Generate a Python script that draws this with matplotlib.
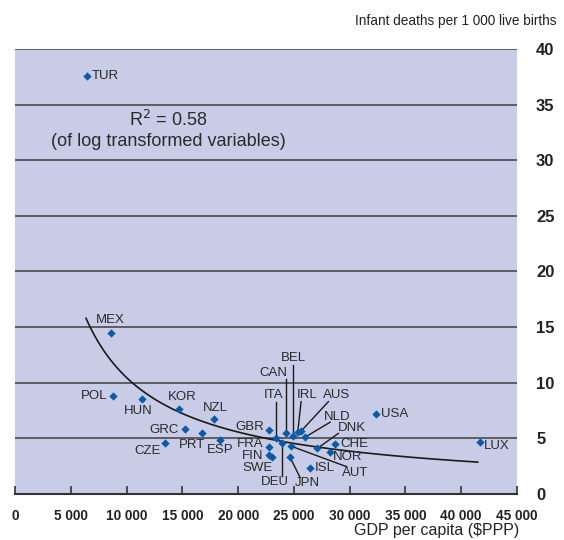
import numpy as np
import matplotlib
matplotlib.use('Agg')
import matplotlib.pyplot as plt

plt.rcParams['font.family'] = ['Liberation Sans', 'DejaVu Sans']

# ==== data ====
countries = ['TUR', 'MEX', 'POL', 'HUN', 'KOR', 'NZL', 'GRC', 'PRT', 'ESP', 'CZE',
             'GBR', 'ITA', 'CAN', 'BEL', 'IRL', 'AUS', 'NLD', 'DEU', 'FRA', 'FIN',
             'SWE', 'AUT', 'JPN', 'ISL', 'DNK', 'NOR', 'CHE', 'USA', 'LUX']
gdp = [6400, 8560, 8800, 11400, 14720, 17840, 15230, 16790, 18380, 13460,
       22770, 23370, 24300, 24960, 25350, 25650, 26000, 23910, 22770, 22770,
       23070, 24750, 24660, 26450, 27110, 28250, 28700, 32380, 41710]
infant = [37.6, 14.5, 8.8, 8.5, 7.6, 6.7, 5.8, 5.45, 4.85, 4.55,
          5.75, 5.05, 5.45, 5.25, 5.55, 5.65, 5.1, 4.55, 4.25, 3.5,
          3.3, 4.3, 3.3, 2.35, 4.1, 3.8, 4.5, 7.2, 4.65]

# label anchor (x, y, horizontal alignment)
label_pos = {
    'TUR': (6850, 37.6, 'left'), 'MEX': (8560, 15.6, 'center'),
    'POL': (8250, 8.85, 'right'), 'HUN': (11050, 7.45, 'center'),
    'KOR': (14950, 8.7, 'center'), 'NZL': (18000, 7.75, 'center'),
    'GRC': (14700, 5.75, 'right'), 'PRT': (15850, 4.4, 'center'),
    'ESP': (18400, 3.95, 'center'), 'CZE': (11850, 3.85, 'center'),
    'GBR': (22300, 6.05, 'right'), 'ITA': (23200, 8.9, 'center'),
    'CAN': (23200, 10.85, 'center'), 'BEL': (24960, 12.2, 'center'),
    'IRL': (26200, 8.9, 'center'), 'AUS': (28850, 8.9, 'center'),
    'NLD': (28850, 6.9, 'center'), 'DEU': (23300, 1.1, 'center'),
    'FRA': (22300, 4.45, 'right'), 'FIN': (22300, 3.4, 'right'),
    'SWE': (23100, 2.35, 'right'), 'AUT': (30500, 1.85, 'center'),
    'JPN': (26250, 0.95, 'center'), 'ISL': (26900, 2.3, 'left'),
    'DNK': (30200, 5.9, 'center'), 'NOR': (28500, 3.35, 'left'),
    'CHE': (29150, 4.45, 'left'), 'USA': (32850, 7.15, 'left'),
    'LUX': (42100, 4.3, 'left'),
}
# leader lines: start point near the label, ending at the country's marker
line_start = {
    'ITA': (23370, 8.3), 'CAN': (24300, 10.3), 'BEL': (24960, 11.6),
    'IRL': (25650, 8.3), 'AUS': (28100, 8.3), 'NLD': (28250, 6.45),
    'DEU': (23910, 1.6), 'AUT': (29750, 2.45), 'JPN': (25550, 1.5),
    'DNK': (29000, 5.45),
}

xticks = list(range(0, 45001, 5000))
xtick_labels = ['0', '5 000', '10 000', '15 000', '20 000', '25 000',
                '30 000', '35 000', '40 000', '45 000']
yticks = list(range(0, 41, 5))

bg = '#c8cce6'
blue = '#0b5aa6'
grid = '#4a4a4a'

fig = plt.figure(figsize=(5.64, 5.40), dpi=100)
ax = fig.add_axes([0.0271, 0.0852, 0.8890, 0.8241])
ax.set_facecolor(bg)
ax.set_xlim(0, 45000)
ax.set_ylim(0, 40)

for y in yticks[1:]:
    ax.axhline(y, color=grid, lw=1.2, zorder=1)

# log-log trend line
b, a = np.polyfit(np.log(gdp), np.log(infant), 1)
xs = np.linspace(6350, 41500, 200)
ax.plot(xs, np.exp(a) * xs ** b, color='#1a1a1a', lw=1.2, zorder=2)

ax.scatter(gdp, infant, marker='D', s=18, color=blue, zorder=4, linewidths=0)

for c, x, y in zip(countries, gdp, infant):
    lx, ly, ha = label_pos[c]
    ax.text(lx, ly, c, fontsize=9.5, color='#2a2a2a', ha=ha, va='center', zorder=5)
    if c in line_start:
        sx, sy = line_start[c]
        ax.plot([sx, x], [sy, y], color='#1a1a1a', lw=1.0, zorder=3)

ax.text(13700, 33.6, 'R$^2$ = 0.58', fontsize=13, ha='center', va='center', color='#2a2a2a')
ax.text(13700, 31.7, '(of log transformed variables)', fontsize=13, ha='center',
        va='center', color='#2a2a2a')

for s in ['left', 'right', 'top']:
    ax.spines[s].set_visible(False)
ax.spines['bottom'].set_color('#333333')
ax.spines['bottom'].set_linewidth(1.5)

ax.set_xticks(xticks)
ax.set_xticklabels(xtick_labels, fontsize=9.8, fontweight='bold', color='#222222')
ax.tick_params(axis='x', direction='in', length=6, width=1.2, color='#333333', pad=11)
ax.yaxis.tick_right()
ax.set_yticks(yticks)
ax.set_yticklabels([str(v) for v in yticks], fontsize=12, fontweight='bold',
                   color='#222222')
ax.tick_params(axis='y', length=0, pad=14)

fig.text(0.986, 0.962, 'Infant deaths per 1 000 live births', fontsize=9.8,
         ha='right', va='center', color='#222222')
fig.text(0.920, 0.017, 'GDP per capita ($PPP)', fontsize=11.5, ha='right',
         va='center', color='#222222')

fig.savefig('out.png', dpi=100)
